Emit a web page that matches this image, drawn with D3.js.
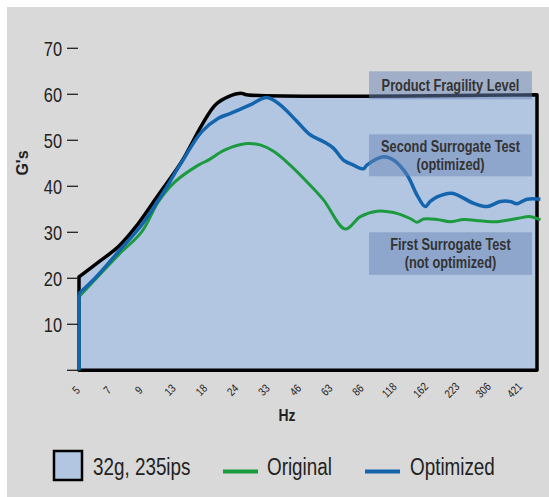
<!DOCTYPE html>
<html>
<head>
<meta charset="utf-8">
<script src="https://cdn.jsdelivr.net/npm/d3@7"></script>
<style>
  body { margin: 0; background: #fff; }
  svg text { font-family: "Liberation Sans", Arial, sans-serif; fill: #222; }
</style>
</head>
<body>
<svg id="chart" width="549" height="497"></svg>
<script>
// frequency axis: tick labels at evenly spaced (log) positions, data x = position index
const hzLabels = ["5", "7", "9", "13", "18", "24", "33", "46", "63", "86", "118", "162", "223", "306", "421"];
const gTicks = [0, 10, 20, 30, 40, 50, 60, 70];

// test envelope 32g, 235ips (upper edge)
const envelope = [
  [0, 20.3], [0.6, 23.4], [1.26, 26.9], [1.79, 31.0], [2.53, 38.1], [3.28, 45.4],
  [3.92, 53.3], [4.35, 57.7], [4.77, 59.5], [5.2, 60.2], [5.35, 59.9], [14.62, 59.9]
];

// original (first surrogate test)
const original = [
  [0, 0], [0, 16.0], [1.26, 25.1], [2.0, 30.1], [2.54, 36.7], [3.07, 41.0], [3.81, 44.6],
  [4.13, 45.7], [4.66, 47.9], [5.36, 49.3], [5.78, 49.0], [6.21, 47.6], [6.74, 44.6],
  [7.27, 41.0], [7.81, 37.0], [8.5, 30.7], [8.98, 33.4], [9.51, 34.6], [10.04, 34.3],
  [10.57, 33.0], [10.79, 32.2], [11.0, 32.9], [11.43, 32.8], [11.85, 32.3], [12.28, 32.8],
  [12.81, 32.5], [13.34, 32.3], [13.98, 33.0], [14.41, 33.4], [14.73, 32.7]
];

// optimized (second surrogate test)
const optimized = [
  [0, 0], [0, 16.7], [0.51, 20.0], [1.26, 25.8], [2.0, 31.6], [2.64, 38.1], [3.28, 45.3],
  [3.92, 51.9], [4.45, 54.8], [4.82, 55.8], [5.46, 57.7], [6.0, 59.3], [6.42, 57.7],
  [6.96, 54.1], [7.38, 51.2], [7.81, 49.7], [8.12, 48.3], [8.44, 45.7], [8.76, 44.6],
  [9.08, 43.8], [9.19, 44.6], [9.72, 46.4], [10.04, 45.7], [10.47, 42.5], [10.79, 38.1],
  [11.05, 35.6], [11.21, 36.7], [11.43, 37.7], [11.9, 38.5], [12.6, 36.3], [13.03, 35.6],
  [13.45, 36.7], [13.77, 36.7], [13.98, 36.2], [14.3, 37.2], [14.73, 37.2]
];

// callout boxes, top edge in G's
const notes = [
  { lines: ["Product Fragility Level"], top: 65.0, h: 28 },
  { lines: ["Second Surrogate Test", "(optimized)"], top: 51.3, h: 42 },
  { lines: ["First Surrogate Test", "(not optimized)"], top: 30.0, h: 42.5 }
];

const svg = d3.select("#chart");
const SX = 0.82; // squeeze text to look like a condensed face

const x = d3.scaleLinear().domain([0, 14.62]).range([79, 537]);
const y = d3.scaleLinear().domain([0, 70]).range([370.3, 48.3]);

function place(px, py, rot) {
  return "translate(" + px + "," + py + ")" + (rot ? " rotate(" + rot + ")" : "") + " scale(" + SX + ",1)";
}

svg.append("rect")
  .attr("x", 7).attr("y", 7).attr("width", 542).attr("height", 490)
  .attr("fill", "#d9d9d9");

// envelope
const area = d3.area()
  .x(d => x(d[0]))
  .y0(y(0))
  .y1(d => y(d[1]))
  .curve(d3.curveCatmullRom.alpha(0.5));

svg.append("path")
  .datum(envelope)
  .attr("d", area)
  .attr("fill", "#b2c6e2")
  .attr("stroke", "#000")
  .attr("stroke-width", 3.5)
  .attr("stroke-linejoin", "round");

const line = d3.line()
  .x(d => x(d[0]))
  .y(d => y(d[1]))
  .curve(d3.curveCatmullRom.alpha(0.5));
const straight = d3.line()
  .x(d => x(d[0]))
  .y(d => y(d[1]));

function drawSeries(data, color, w) {
  // vertical rise at 5 Hz is straight, the rest is smooth
  svg.append("path")
    .attr("d", straight(data.slice(0, 2)) + line(data.slice(1)))
    .attr("fill", "none")
    .attr("stroke", color)
    .attr("stroke-width", w)
    .attr("stroke-linejoin", "round");
}
drawSeries(original, "#1b9a3e", 3);
drawSeries(optimized, "#1464ae", 3.5);

// y axis
const yAxis = svg.append("g");
yAxis.selectAll("line.tick")
  .data(gTicks)
  .enter().append("line")
  .attr("class", "tick")
  .attr("x1", 67).attr("x2", 78)
  .attr("y1", d => y(d)).attr("y2", d => y(d))
  .attr("stroke", "#222")
  .attr("stroke-width", 1.3);

yAxis.selectAll("text")
  .data(gTicks.filter(d => d > 0))
  .enter().append("text")
  .attr("transform", d => place(62, y(d)))
  .attr("dy", "0.36em")
  .attr("text-anchor", "end")
  .attr("font-size", 20)
  .text(d => d);

svg.append("text")
  .attr("transform", "translate(28,163) rotate(-90)")
  .attr("text-anchor", "middle")
  .attr("font-size", 16)
  .attr("font-weight", "bold")
  .text("G's");

// x axis labels
svg.append("g").selectAll("text")
  .data(hzLabels)
  .enter().append("text")
  .attr("transform", (d, i) => place(x(i) - 3, 390, -45))
  .attr("text-anchor", "middle")
  .attr("dy", "0.35em")
  .attr("font-size", 11.5)
  .text(d => d);

svg.append("text")
  .attr("transform", place(287, 421))
  .attr("text-anchor", "middle")
  .attr("font-size", 17)
  .attr("font-weight", "bold")
  .text("Hz");

// annotation boxes
const note = svg.append("g").selectAll("g")
  .data(notes)
  .enter().append("g");

note.append("rect")
  .attr("x", 369).attr("width", 163)
  .attr("y", d => y(d.top)).attr("height", d => d.h)
  .attr("fill", "rgba(105,132,182,0.5)");

note.each(function(d) {
  const g = d3.select(this);
  const y0 = y(d.top) + (d.lines.length === 1 ? 20 : 18);
  d.lines.forEach((t, k) => {
    g.append("text")
      .attr("transform", place(450.5, y0 + k * 17.5))
      .attr("text-anchor", "middle")
      .attr("font-size", 15.6)
      .attr("font-weight", "bold")
      .style("fill", "#333")
      .text(t);
  });
});

// legend
const legend = svg.append("g");
legend.append("rect")
  .attr("x", 54).attr("y", 451).attr("width", 28).attr("height", 29)
  .attr("fill", "#b2c6e2").attr("stroke", "#000").attr("stroke-width", 2.5);
legend.append("text").attr("transform", place(93, 475)).attr("font-size", 23).text("32g, 235ips");
legend.append("line").attr("x1", 223).attr("x2", 258).attr("y1", 471.5).attr("y2", 471.5)
  .attr("stroke", "#1b9a3e").attr("stroke-width", 4);
legend.append("text").attr("transform", place(267, 475)).attr("font-size", 23).text("Original");
legend.append("line").attr("x1", 365).attr("x2", 400).attr("y1", 471.5).attr("y2", 471.5)
  .attr("stroke", "#1464ae").attr("stroke-width", 4);
legend.append("text").attr("transform", place(410, 475)).attr("font-size", 23).text("Optimized");
</script>
</body>
</html>
